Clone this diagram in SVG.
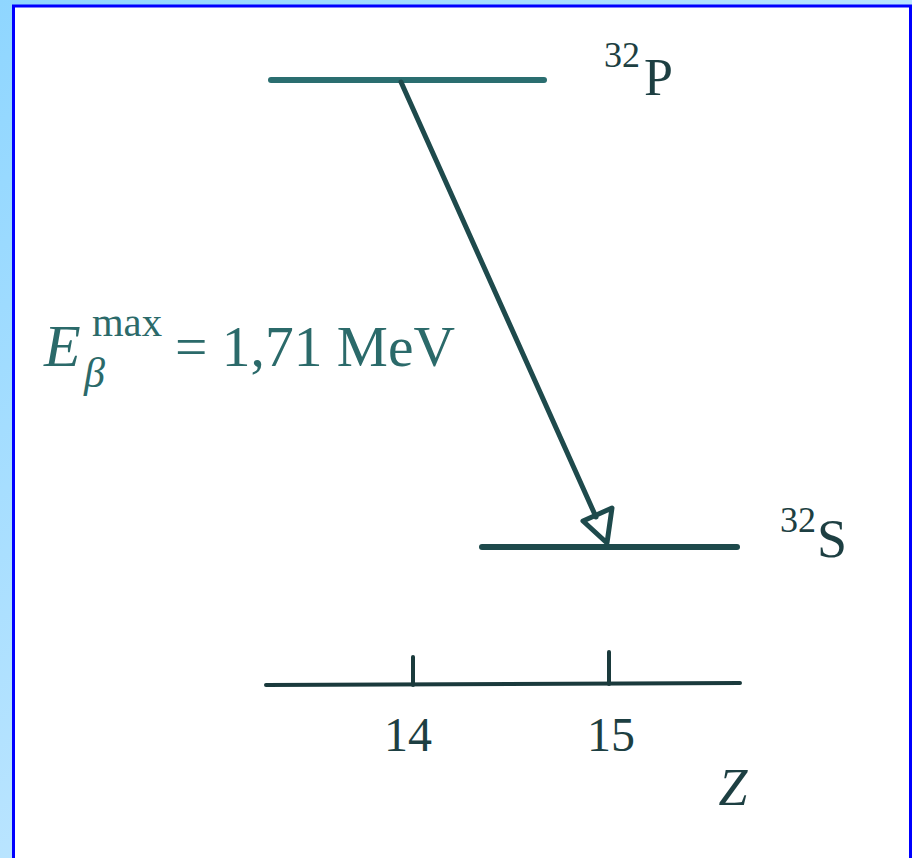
<svg xmlns="http://www.w3.org/2000/svg" width="912" height="858" viewBox="0 0 912 858">
<defs>
<linearGradient id="bg" x1="0" y1="0" x2="1" y2="1">
<stop offset="0" stop-color="#8fd6ff"/>
<stop offset="1" stop-color="#e2f2ff"/>
</linearGradient>
<style>
.lvl{stroke:#1e4a4c;stroke-width:6;stroke-linecap:round;fill:none}
.ax{stroke:#1a3a3c;stroke-width:4;stroke-linecap:round;fill:none}
.t{font-family:"Liberation Serif","Times New Roman",serif;fill:#1d3f42}
.lab{font-family:"Liberation Serif","Times New Roman",serif;fill:#2b6a6a}
</style>
</defs>
<rect x="0" y="0" width="912" height="858" fill="url(#bg)"/>
<rect x="13.5" y="6" width="897" height="870" fill="#ffffff" stroke="#0000ff" stroke-width="3"/>
<g id="level-P32">
<line class="lvl" x1="271" y1="80" x2="544" y2="80" style="stroke:#2a6e70"/>
<text class="t" x="604" y="67" font-size="36">32</text>
<text class="t" x="644" y="95" font-size="52">P</text>
</g>
<g id="level-S32">
<line class="lvl" x1="482" y1="547" x2="737" y2="547"/>
<text class="t" x="780" y="532" font-size="36">32</text>
<text class="t" x="817" y="557" font-size="54">S</text>
</g>
<g id="axis">
<line class="ax" x1="266" y1="685" x2="740" y2="683"/>
<line class="ax" x1="413" y1="657" x2="413" y2="685"/>
<line class="ax" x1="609" y1="652" x2="609" y2="684"/>
<text class="t" x="408" y="751" font-size="48" text-anchor="middle">14</text>
<text class="t" x="611" y="751" font-size="48" text-anchor="middle">15</text>
<text class="t" x="733" y="805" font-size="52" font-style="italic" text-anchor="middle">Z</text>
</g>
<g id="connectors">
<line x1="401" y1="82" x2="596" y2="517" stroke="#1e4a4c" stroke-width="5" stroke-linecap="round"/>
<polygon points="583,521 612,508 607,543" fill="none" stroke="#1e4a4c" stroke-width="5" stroke-linejoin="round"/>
</g>
<g id="label">
<text class="lab" x="44" y="366" font-size="60" font-style="italic">E</text>
<text class="lab" x="92" y="336" font-size="40" textLength="70" lengthAdjust="spacingAndGlyphs">max</text>
<text class="lab" x="84" y="387" font-size="42" font-style="italic">β</text>
<text class="lab" x="175" y="366" font-size="58" textLength="280" lengthAdjust="spacingAndGlyphs">= 1,71 MeV</text>
</g>
</svg>
